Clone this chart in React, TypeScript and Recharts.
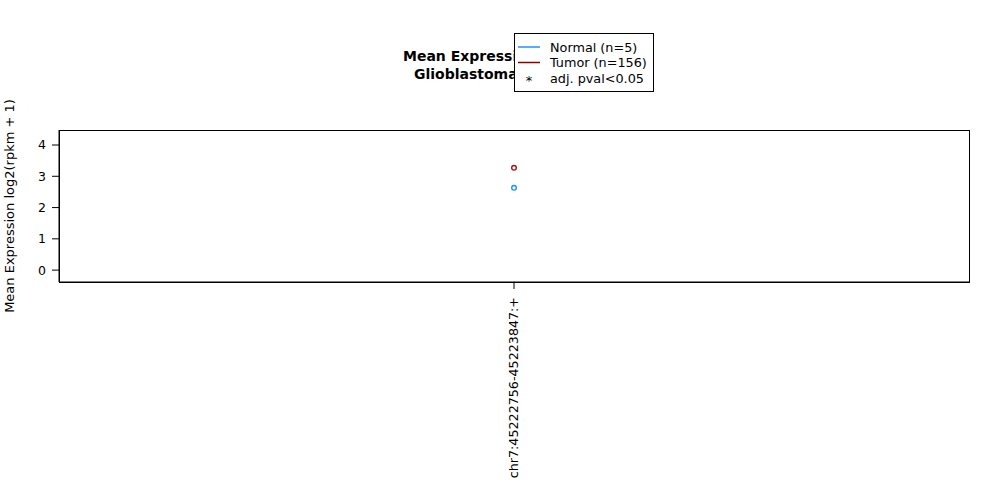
import React from 'react';
import {
  ComposedChart,
  Line,
  XAxis,
  YAxis,
} from 'recharts';

const categories = ['chr7:45222756-45223847:+'];
const normalValues = [2.63];
const tumorValues = [3.27];
const yTicks = [0, 1, 2, 3, 4];
const titleLines = ['Mean Expression', 'Glioblastoma'];
const yLabel = 'Mean Expression log2(rpkm + 1)';
const legendItems = [
  { label: 'Normal (n=5)', color: '#1E90FF', kind: 'line' },
  { label: 'Tumor (n=156)', color: '#8B0000', kind: 'line' },
  { label: 'adj. pval<0.05', color: '#000000', kind: 'star' },
];

const data = categories.map((c, i) => ({
  name: c,
  normal: normalValues[i],
  tumor: tumorValues[i],
}));

const FONT = '"DejaVu Sans", sans-serif';

function RotatedTick(props: any) {
  const { x, y, payload } = props;
  return (
    <text
      transform={`translate(${x + 4},${y + 6}) rotate(-90)`}
      textAnchor="end"
      fontSize={12.7}
      fontFamily={FONT}
      fill="#000"
    >
      {payload.value}
    </text>
  );
}

function LegendBox() {
  return (
    <svg width={142} height={62} style={{ position: 'absolute', left: 514, top: 33 }}>
      <rect x={0.5} y={0.5} width={139} height={58} fill="#fff" stroke="#000" />
      {legendItems.map((it, i) => {
        const cy = 14 + i * 15.5;
        return (
          <g key={it.label}>
            {it.kind === 'line' ? (
              <line x1={4} x2={26} y1={cy} y2={cy} stroke={it.color} strokeWidth={1.5} />
            ) : (
              <text x={15} y={cy + 7} textAnchor="middle" fontSize={13} fontFamily={FONT}>*</text>
            )}
            <text x={36} y={cy + 4.5} fontSize={12.8} fontFamily={FONT} fill="#000">
              {it.label}
            </text>
          </g>
        );
      })}
    </svg>
  );
}

export default function App() {
  return (
    <div style={{ position: 'absolute', left: 0, top: 0, width: 1000, height: 500, background: '#fff' }}>
      <div style={{ position: 'absolute', left: 403, top: 47, fontFamily: FONT, fontWeight: 'bold', fontSize: 14, lineHeight: '18px', whiteSpace: 'pre' }}>
        <div>{titleLines[0]}</div>
        <div style={{ marginLeft: 11 }}>{titleLines[1]}</div>
      </div>
      <ComposedChart
        width={1000}
        height={500}
        data={data}
        margin={{ top: 130, right: 31, bottom: 18, left: 0 }}
        style={{ position: 'absolute', left: 0, top: 0 }}
      >
        <XAxis
          dataKey="name"
          type="category"
          height={200}
          tick={<RotatedTick />}
          tickSize={7}
          axisLine={{ stroke: '#000' }}
          tickLine={{ stroke: '#000' }}
          interval={0}
        />
        <YAxis
          domain={[-0.38, 4.48]}
          ticks={yTicks}
          interval={0}
          width={59}
          tickSize={7}
          tickMargin={6}
          tick={{ fill: '#000', fontSize: 12.5, fontFamily: FONT }}
          axisLine={{ stroke: '#000' }}
          tickLine={{ stroke: '#000' }}
          allowDataOverflow
        />
        <Line
          dataKey="normal"
          stroke="none"
          isAnimationActive={false}
          dot={{ r: 2.3, fill: '#fff', stroke: '#1E90FF', strokeWidth: 1.4 }}
          activeDot={false}
        />
        <Line
          dataKey="tumor"
          stroke="none"
          isAnimationActive={false}
          dot={{ r: 2.3, fill: '#fff', stroke: '#A01818', strokeWidth: 1.4 }}
          activeDot={false}
        />
      </ComposedChart>
      <div style={{ position: 'absolute', left: 59, top: 130, width: 909, height: 151, border: '1px solid #000', pointerEvents: 'none' }} />
      <svg width={24} height={320} style={{ position: 'absolute', left: 0, top: 60 }}>
        <text
          transform="translate(14,146) rotate(-90)"
          textAnchor="middle"
          fontSize={13}
          fontFamily={FONT}
          fill="#000"
        >
          {yLabel}
        </text>
      </svg>
      <LegendBox />
    </div>
  );
}
